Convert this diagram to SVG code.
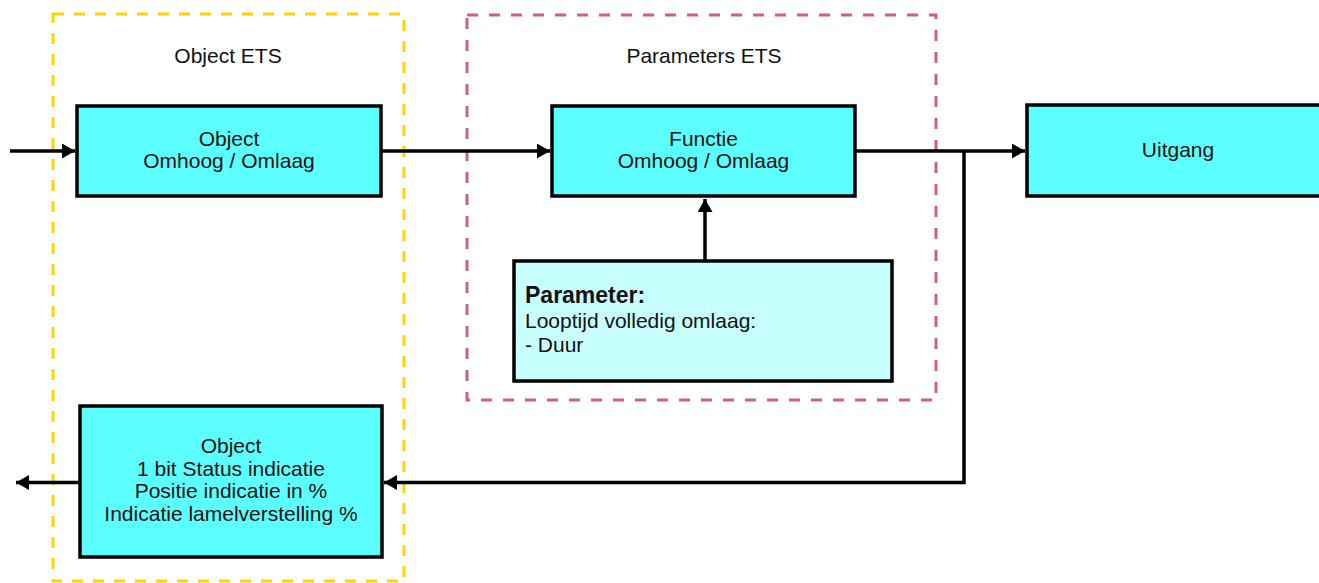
<svg xmlns="http://www.w3.org/2000/svg" width="1319" height="583" viewBox="0 0 1319 583">
<style>
text{font-family:"Liberation Sans",Arial,Helvetica,sans-serif;font-size:21px;fill:#111}
.c{text-anchor:middle}
.b{font-weight:bold;font-size:23px}
.box{fill:#5CFFFF;stroke:#000;stroke-width:3.5}
.pbox{fill:#C8FFFF;stroke:#000;stroke-width:3.5}
.conn{fill:none;stroke:#000;stroke-width:3.5;marker-end:url(#ah)}
.yg{fill:none;stroke:#FFD400;stroke-width:3;stroke-dasharray:11 10}
.pg{fill:none;stroke:#CF5E8A;stroke-width:3;stroke-dasharray:11 11}
</style>
<defs>
<marker id="ah" markerUnits="userSpaceOnUse" markerWidth="14" markerHeight="16" refX="13" refY="7.5" orient="auto" viewBox="0 0 14 16">
<path d="M0,0 L13,7.5 L0,15 z" fill="#000"/>
</marker>
</defs>
<rect width="1319" height="583" fill="#fff"/>
<g id="group-object-ets">
<rect class="yg" x="53" y="14" width="351" height="567"/>
<text class="c" x="228" y="63">Object ETS</text>
</g>
<g id="group-parameters-ets">
<rect class="pg" x="467" y="15" width="469" height="385"/>
<text class="c" x="704" y="63">Parameters ETS</text>
</g>
<g id="connectors">
<path class="conn" d="M10,151 H75"/>
<path class="conn" d="M381,151 H550"/>
<path class="conn" d="M855,151 H1025"/>
<path class="conn" d="M964,151 V482.5 H384"/>
<path class="conn" d="M705,261 V199"/>
<path class="conn" d="M80,482.5 H16"/>
</g>
<g id="node-object-in">
<rect class="box" x="77" y="106" width="304" height="90"/>
<text class="c" x="229" y="146">Object</text>
<text class="c" x="229" y="168">Omhoog / Omlaag</text>
</g>
<g id="node-functie">
<rect class="box" x="552" y="106" width="303" height="90"/>
<text class="c" x="703.5" y="146">Functie</text>
<text class="c" x="703.5" y="168">Omhoog / Omlaag</text>
</g>
<g id="node-uitgang">
<rect class="box" x="1027" y="105" width="310" height="91"/>
<text class="c" x="1178" y="157">Uitgang</text>
</g>
<g id="node-parameter">
<rect class="pbox" x="514" y="261" width="378" height="120"/>
<text class="b" x="525" y="303">Parameter:</text>
<text x="525" y="328">Looptijd volledig omlaag:</text>
<text x="525" y="352">- Duur</text>
</g>
<g id="node-object-out">
<rect class="box" x="80" y="406" width="302" height="151"/>
<text class="c" x="231" y="453">Object</text>
<text class="c" x="231" y="476">1 bit Status indicatie</text>
<text class="c" x="231" y="498">Positie indicatie in %</text>
<text class="c" x="231" y="521">Indicatie lamelverstelling %</text>
</g>
</svg>
